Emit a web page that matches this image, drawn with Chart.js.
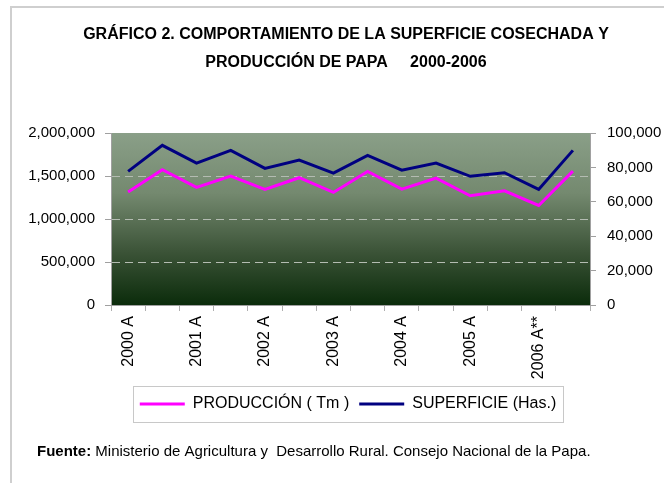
<!DOCTYPE html>
<html>
<head>
<meta charset="utf-8">
<script src="https://cdn.jsdelivr.net/npm/chart.js@4.4.1/dist/chart.umd.min.js"></script>
<style>
  html, body { margin: 0; padding: 0; background: #fff; }
</style>
</head>
<body>
<canvas id="chart" width="664" height="483"></canvas>
<script>
const FONT = '"Liberation Sans Narrow","Arial Narrow","Liberation Sans",Arial,sans-serif';

// datos
const periodos = ['2000 A','','2001 A','','2002 A','','2003 A','','2004 A','','2005 A','','2006 A**',''];
const produccion = [1313000,1573000,1367000,1499000,1344000,1480000,1309000,1553000,1348000,1476000,1270000,1328000,1157000,1557000];
const superficie = [77700,92800,82500,89900,79400,84300,76700,87000,78400,82500,74800,76900,67200,89900];
const titulo = ['GRÁFICO 2. COMPORTAMIENTO DE LA SUPERFICIE COSECHADA Y', 'PRODUCCIÓN DE PAPA     2000-2006'];
const fuente = ['Fuente:', ' Ministerio de Agricultura y  Desarrollo Rural. Consejo Nacional de la Papa.'];

const fmt = v => Number(v).toLocaleString('en-US');

// fondo, marco y area del grafico con degradado
const fondo = {
  id: 'fondo',
  afterLayout(chart){
    // titulo y leyenda centrados sobre el area de trazado, no sobre el lienzo
    const t = chart.titleBlock, lg = chart.legend;
    if (t){ t.left += 14; t.right += 14; }
    if (lg){
      lg.left += 16; lg.right += 16;
      if (lg.adjustHitBoxes) lg.adjustHitBoxes();
    }
  },
  beforeDraw(chart){
    const {ctx, chartArea: a} = chart;
    ctx.save();
    ctx.fillStyle = '#fff';
    ctx.fillRect(0, 0, chart.width, chart.height);
    ctx.strokeStyle = '#cfcfcf';
    ctx.lineWidth = 2;
    ctx.strokeRect(11, 7, chart.width + 20, chart.height + 20);
    const g = ctx.createLinearGradient(0, a.top, 0, a.bottom);
    g.addColorStop(0, '#8a9f88');
    g.addColorStop(0.35, '#74896f');
    g.addColorStop(0.7, '#3a5236');
    g.addColorStop(1, '#0b2c0b');
    ctx.fillStyle = g;
    ctx.fillRect(a.left, a.top, a.right - a.left, a.bottom - a.top);
    ctx.restore();
  }
};

// recuadro de la leyenda y nota de fuente
const extras = {
  id: 'extras',
  afterDraw(chart){
    const {ctx} = chart;
    const lg = chart.legend;
    ctx.save();
    if (lg && lg.legendHitBoxes.length){
      const boxes = lg.legendHitBoxes;
      const x0 = Math.min(...boxes.map(b=>b.left)) - 7;
      const x1 = Math.max(...boxes.map(b=>b.left + b.width)) + 7;
      ctx.strokeStyle = '#c8c8c8';
      ctx.lineWidth = 1;
      ctx.strokeRect(Math.round(x0)+0.5, Math.round(lg.top)+0.5, Math.round(x1-x0), 36);
    }
    ctx.fillStyle = '#000';
    ctx.textBaseline = 'middle';
    ctx.font = 'bold 15px ' + FONT;
    ctx.fillText(fuente[0], 37, 452);
    const w = ctx.measureText(fuente[0]).width;
    ctx.font = '15px ' + FONT;
    ctx.fillText(fuente[1], 37 + w, 452);
    ctx.restore();
  }
};

new Chart(document.getElementById('chart'), {
  type: 'line',
  data: {
    labels: periodos,
    datasets: [
      { label: 'PRODUCCIÓN ( Tm )', data: produccion, yAxisID: 'y',
        borderColor: '#ff00ff', backgroundColor: '#ff00ff', borderWidth: 3,
        pointRadius: 0, tension: 0 },
      { label: 'SUPERFICIE (Has.)', data: superficie, yAxisID: 'y1',
        borderColor: '#000080', backgroundColor: '#000080', borderWidth: 3,
        pointRadius: 0, tension: 0 }
    ]
  },
  options: {
    responsive: false,
    animation: false,
    layout: { padding: { top: 0, left: 0, right: 0, bottom: 61 } },
    plugins: {
      title: {
        display: true, text: titulo, color: '#000',
        font: { family: FONT, size: 16, weight: 'bold', lineHeight: 1.75 },
        padding: { top: 21, bottom: 56 }
      },
      legend: {
        position: 'bottom',
        labels: {
          color: '#000', font: { family: FONT, size: 16 },
          usePointStyle: true, pointStyle: 'line', pointStyleWidth: 45,
          padding: 10
        }
      },
      tooltip: { enabled: false }
    },
    scales: {
      x: {
        offset: true,
        grid: { offset: true, drawOnChartArea: false, color: '#b0b0b0', tickLength: 6 },
        border: { color: '#a0a0a0' },
        ticks: { autoSkip: false, minRotation: 90, maxRotation: 90, padding: 5,
                 color: '#000', font: { family: FONT, size: 16 } },
        afterFit(s){ s.height = 81; }
      },
      y: {
        position: 'left', min: 0, max: 2000000,
        ticks: { stepSize: 500000, callback: fmt, color: '#000', padding: 10,
                 font: { family: FONT, size: 15 } },
        grid: {
          tickLength: 6,
          color: c => (c.tick.value === 0 || c.tick.value === 2000000) ? 'rgba(0,0,0,0)' : '#b4bcb2',
          tickColor: '#a0a0a0'
        },
        border: { color: '#a0a0a0', dash: [8, 5] },
        afterFit(s){ s.width = 111; }
      },
      y1: {
        position: 'right', min: 0, max: 100000,
        ticks: { stepSize: 20000, callback: fmt, color: '#000', padding: 11,
                 font: { family: FONT, size: 15 } },
        grid: { drawOnChartArea: false, tickLength: 6, color: '#a0a0a0' },
        border: { color: '#a0a0a0' },
        afterFit(s){ s.width = 74; }
      }
    }
  },
  plugins: [fondo, extras]
});
</script>
</body>
</html>
